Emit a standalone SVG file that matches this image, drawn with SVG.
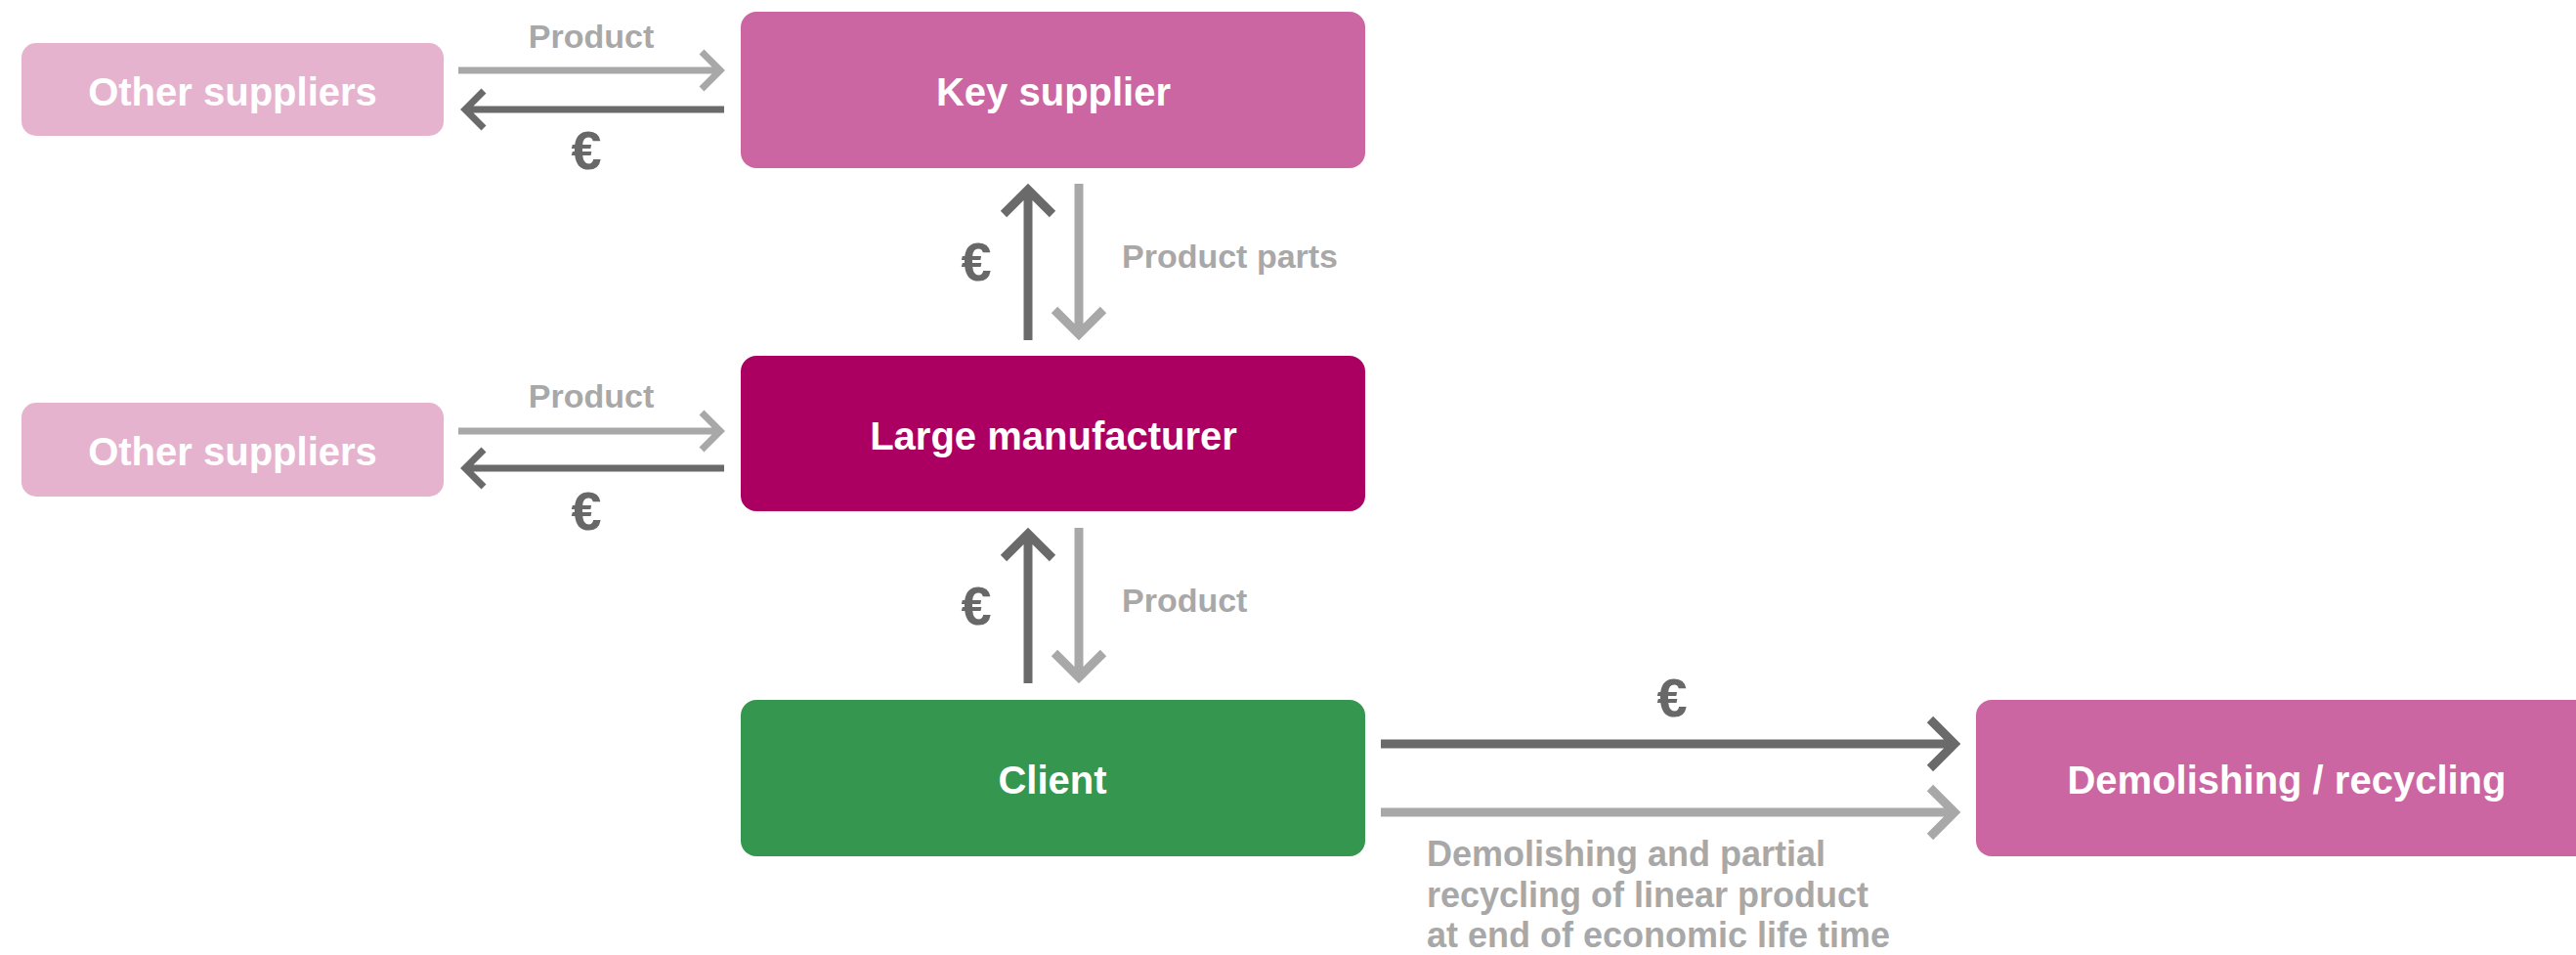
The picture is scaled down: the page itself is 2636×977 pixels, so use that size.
<svg xmlns="http://www.w3.org/2000/svg" width="2636" height="977" viewBox="0 0 2636 977">
<style>
.box{stroke:none}
.lbl{font-family:"Liberation Sans",Arial,sans-serif;font-weight:bold;font-size:40px;fill:#ffffff;text-anchor:middle}
.glbl{font-family:"Liberation Sans",Arial,sans-serif;font-weight:bold;font-size:34px;fill:#a8a8a8}
.mlbl{font-family:"Liberation Sans",Arial,sans-serif;font-weight:bold;font-size:36px;fill:#a8a8a8}
.eur{font-family:"Liberation Sans",Arial,sans-serif;font-weight:bold;font-size:56px;fill:#686868;text-anchor:middle}
.dk{stroke:#6a6a6a;fill:none;stroke-linejoin:miter}
.lt{stroke:#a8a8a8;fill:none;stroke-linejoin:miter}
.s7{stroke-width:7}
.s9{stroke-width:9}
</style>
<rect width="2636" height="977" fill="#ffffff"/>
<g id="other-suppliers-1">
<rect class="box" x="22" y="44" width="432" height="95" rx="15" fill="#e6b3cf"/>
<text class="lbl" x="238" y="108">Other suppliers</text>
</g>
<g id="key-supplier">
<rect class="box" x="758" y="12" width="639" height="160" rx="16" fill="#cc66a2"/>
<text class="lbl" x="1078" y="108">Key supplier</text>
</g>
<g id="other-suppliers-2">
<rect class="box" x="22" y="412" width="432" height="96" rx="15" fill="#e6b3cf"/>
<text class="lbl" x="238" y="476">Other suppliers</text>
</g>
<g id="large-manufacturer">
<rect class="box" x="758" y="364" width="639" height="159" rx="16" fill="#ab0062"/>
<text class="lbl" x="1078" y="460">Large manufacturer</text>
</g>
<g id="client">
<rect class="box" x="758" y="716" width="639" height="160" rx="16" fill="#359650"/>
<text class="lbl" x="1077" y="812">Client</text>
</g>
<g id="demolishing-recycling">
<rect class="box" x="2022" y="716" width="639" height="160" rx="16" fill="#cc66a2"/>
<text class="lbl" x="2340" y="812">Demolishing / recycling</text>
</g>
<g id="connectors">
<path class="lt s7" d="M469 72H737M718 53L737 72L718 91"/>
<path class="dk s7" d="M741 112H476M495 93L476 112L495 131"/>
<text class="glbl" x="605" y="49" text-anchor="middle">Product</text>
<text class="eur" x="600" y="173">€</text>
<path class="lt s7" d="M469 441H737M718 422L737 441L718 460"/>
<path class="dk s7" d="M741 479H476M495 460L476 479L495 498"/>
<text class="glbl" x="605" y="417" text-anchor="middle">Product</text>
<text class="eur" x="600" y="542">€</text>
<path class="dk s9" d="M1052 348V194M1027 219L1052 194L1077 219"/>
<path class="lt s9" d="M1104 188V342M1079 317L1104 342L1129 317"/>
<text class="eur" x="999" y="287">€</text>
<text class="glbl" x="1148" y="274">Product parts</text>
<path class="dk s9" d="M1052 699V546M1027 571L1052 546L1077 571"/>
<path class="lt s9" d="M1104 540V693M1079 668L1104 693L1129 668"/>
<text class="eur" x="999" y="639">€</text>
<text class="glbl" x="1148" y="626">Product</text>
<path class="dk s9" d="M1413 761H2000M1975 736L2000 761L1975 786"/>
<path class="lt s9" d="M1413 831H2000M1975 806L2000 831L1975 856"/>
<text class="eur" x="1711" y="733">€</text>
<text class="mlbl" x="1460" y="886">Demolishing and partial</text>
<text class="mlbl" x="1460" y="928">recycling of linear product</text>
<text class="mlbl" x="1460" y="969">at end of economic life time</text>
</g>
</svg>
